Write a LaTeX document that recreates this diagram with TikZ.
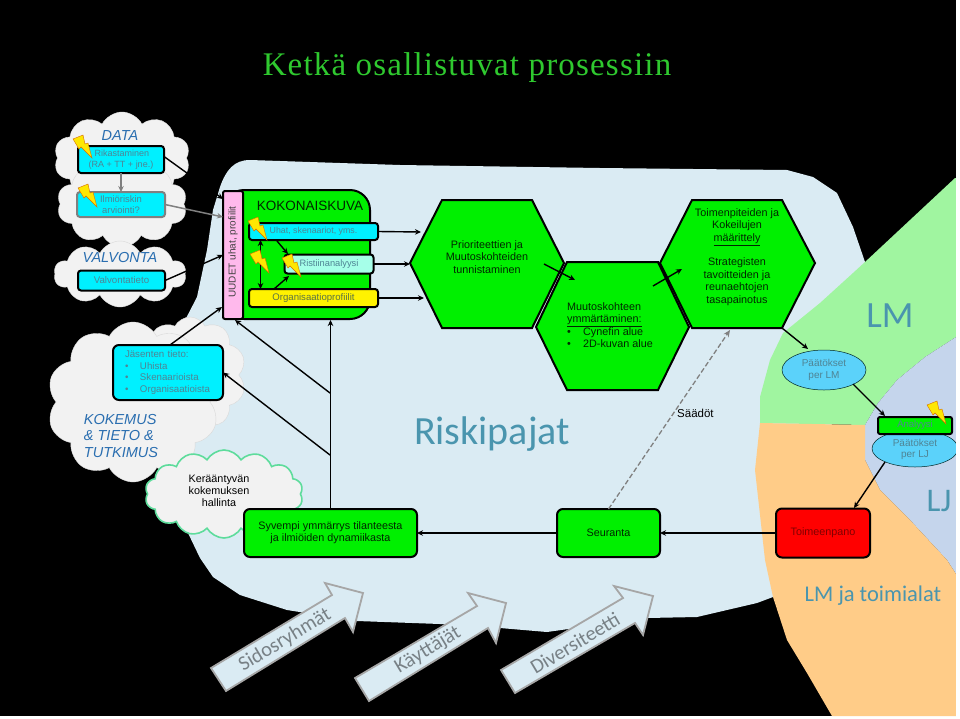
\documentclass[tikz,border=0pt]{standalone}
\usepackage{fontspec}
\setmainfont{Liberation Sans}
\newfontfamily\titlefont[LetterSpace=3.6]{Liberation Serif}
\newfontfamily\calfont{Carlito}
\usetikzlibrary{arrows.meta,shapes.symbols,shapes.geometric}
\definecolor{bgblue}{HTML}{DAEBF3}
\definecolor{lmgreen}{HTML}{A0F5A0}
\definecolor{ljblue}{HTML}{C5D5EC}
\definecolor{orangeback}{HTML}{FFCC88}
\definecolor{cyanbox}{HTML}{00F0FF}
\definecolor{hexgreen}{HTML}{00F000}
\definecolor{cloudgray}{HTML}{F2F2F2}
\definecolor{boxtext}{HTML}{4F8494}
\definecolor{headblue}{HTML}{2A6EB0}
\definecolor{wordart}{HTML}{4A95AE}
\definecolor{ellblue}{HTML}{5BD2FA}
\definecolor{titlegreen}{HTML}{2FC92F}
\definecolor{keragreen}{HTML}{5EDC9C}
\tikzset{
  x=1pt,y=-1pt,
  boxbase/.style={rectangle,rounded corners=3pt,draw=black,line width=2pt,inner sep=0pt,outer sep=0pt,align=center,font=\fontsize{10.8}{12.2}\selectfont},
  smalltext/.style={font=\fontsize{#1}{11.5}\selectfont},
  cyanb/.style={boxbase,fill=cyanbox,text=boxtext},
  greenb/.style={boxbase,fill=hexgreen,text=black!85!green,rounded corners=6pt},
  grayarc/.style={cloud,cloud ignores aspect,draw=white!85!black,line width=.4pt,fill=cloudgray,inner sep=0pt},
  greycloud/.style={grayarc,cloud puffs=10,cloud puff arc=125},
  hexshape/.style={draw=black,line width=2pt,fill=hexgreen,line join=miter},
  hextext/.style={inner sep=0pt,align=center,font=\fontsize{10.8}{12.35}\selectfont,text=black!85!green},
  conn/.style={black,line width=1.4pt,-{Stealth[length=6pt,width=5.5pt]}},
  bigarrow/.style={draw=black!35,line width=1.8pt,fill=bgblue,line join=miter},
  bigarrowtext/.style={font=\calfont\fontsize{20.5}{20.5}\selectfont,text=black!45!bgblue,rotate=31,inner sep=0pt},
  wordarttext/.style={font=\calfont,text=wordart,inner sep=0pt},
  ell/.style={ellipse,draw=black!70!teal,line width=.5pt,fill=ellblue,inner sep=0pt,align=center,font=\fontsize{10}{11.5}\selectfont,text=boxtext},
  head/.style={font=\itshape\fontsize{14.5}{16.5}\selectfont,text=headblue,inner sep=0pt,align=center},
  pics/bolt/.style={code={
    \draw[fill=yellow!90!orange,draw=orange!85!black,line width=.4pt,line join=miter]
      (0,4)--(10,0)--(12,9)--(15,8)--(19,23)--(8,12)--(6,14)--cycle;}}
}
\begin{document}
\begin{tikzpicture}
\useasboundingbox (0,0) rectangle (960,718);
\fill[white] (0,0) rectangle (960,718);
\fill[black] (0,0) rectangle (956,716);
% regions
\fill[bgblue] (220,187) .. controls (226,170) and (234,160) .. (250,160)
  -- (400,165) -- (600,168) -- (787,170) -- (813,177) -- (837,193) -- (853,227) -- (865,262)
  -- (840,400) -- (773,597) -- (757,603) -- (727,610) -- (697,617) -- (647,618) -- (547,632)
  -- (500,628) -- (440,624) -- (357,621) -- (287,610) -- (240,595) -- (213,577) -- (200,558)
  -- (188,533) -- (170,480) -- (160,400) -- (180,330) -- (197,297) -- (207,250) -- (213,210) -- cycle;
\fill[lmgreen] (865,262) -- (955,178) -- (956,178) -- (956,337) -- (925,357) -- (897,380) -- (878,403)
  -- (865,425) -- (760,423) -- (760,397) -- (770,360) -- (783,333) -- (820,303) -- (853,273) -- cycle;
\fill[ljblue] (956,337) -- (925,357) -- (897,380) -- (878,403) -- (865,425) -- (865,460) -- (880,490)
  -- (910,520) -- (947,560) -- (956,574) -- cycle;
\fill[orangeback] (760,423) -- (865,425) -- (865,460) -- (880,490) -- (910,520) -- (947,560) -- (956,574)
  -- (956,716) -- (832,716) -- (807,673) -- (787,640) -- (773,597) -- (765,560) -- (755,470) -- cycle;
% clouds
\node[greycloud,minimum width=136pt,minimum height=92pt] (cdata) at (122,158) {};
\node[greycloud,minimum width=130pt,minimum height=86pt] (cdata2) at (122,204) {};
\node[greycloud,minimum width=132pt,minimum height=66pt] (cvalv) at (120,274) {};
\node[greycloud,minimum width=112pt,minimum height=116pt] (cjas) at (190,375) {};
\node[greycloud,minimum width=172pt,minimum height=160pt] (ckok) at (133,402) {};
\node[cloud,cloud ignores aspect,cloud puffs=14,cloud puff arc=120,draw=keragreen,line width=1.6pt,fill=cloudgray,
  minimum width=158pt,minimum height=88pt,inner sep=0pt] (ckera) at (224,494) {};
\node[inner sep=0pt,align=center,font=\fontsize{10.8}{12.2}\selectfont] (kera) at (219,491) {Kerääntyvän\\kokemuksen\\hallinta};
% heads
\node[head] (hdata) at (120,136) {DATA};
\node[head] (hvalv) at (120,258) {VALVONTA};
\node[head,align=left] (hkok) at (121,435.5) {KOKEMUS\\\& TIETO \&\\TUTKIMUS};
% title
\node[inner sep=0pt,text=titlegreen,font=\titlefont\fontsize{33}{33}\selectfont] (title) at (467,67.5) {Ketkä osallistuvat prosessiin};
% word art
\node[wordarttext,font=\calfont\fontsize{40}{40}\selectfont] (risk) at (492,434) {Riskipajat};
\node[wordarttext,font=\calfont\fontsize{37}{37}\selectfont] (lmt) at (890,316) {LM};
\node[wordarttext,font=\calfont\fontsize{33}{33}\selectfont] (ljt) at (939,501) {LJ};
\node[wordarttext,font=\calfont\fontsize{22.5}{22.5}\selectfont] (lmtm) at (873,596) {LM ja toimialat};
% green panel and boxes
\node[rectangle,rounded corners=20pt,draw=black,line width=2pt,fill=hexgreen,inner sep=0pt,minimum width=146pt,minimum height=129pt] (koko) at (297,254.5) {};
\node[boxbase,fill=pink!60!magenta!50!white,rounded corners=2pt,minimum width=20pt,minimum height=128pt,text=black!75] (uudet) at (233,255) {};
\node[rotate=90,inner sep=0pt,font=\fontsize{10}{12}\selectfont,text=black!75] (uudett) at (233,252) {UUDET uhat, profiilit};
\node[inner sep=0pt,font=\fontsize{13.5}{14}\selectfont,text=black!85!green] (kokot) at (310,206) {KOKONAISKUVA};
\node[cyanb,smalltext=9,minimum width=86pt,minimum height=27pt] (rikas) at (121,159.5) {\hspace*{2pt}Rikastaminen\\(RA + TT + jne.)};
\node[cyanb,smalltext=9.4,draw=black!50,minimum width=88pt,minimum height=25pt] (ilmio) at (121,204.5) {Ilmiöriskin\\arviointi?};
\node[cyanb,smalltext=9.7,minimum width=87pt,minimum height=20pt] (valv) at (121.5,280.5) {Valvontatieto};
\node[cyanb,smalltext=8.8,minimum width=129pt,minimum height=17pt] (uhat) at (313.5,231.5) {Uhat, skenaariot, yms.};
\node[boxbase,smalltext=9.3,fill=green!25!cyan!35!white,text=boxtext,minimum width=89pt,minimum height=19pt] (risti) at (329,264) {Ristiinanalyysi};
\node[boxbase,smalltext=9.6,fill=yellow,text=boxtext!60!black!80!yellow,minimum width=129pt,minimum height=18pt] (org) at (313.5,298) {Organisaatioprofiilit};
\node[cyanb,smalltext=9.7,rounded corners=6pt,minimum width=110pt,minimum height=55pt,text width=86pt,align=left] (jas) at (168,372.5) {%
  Jäsenten tieto:\\\makebox[15pt][l]{\textbullet}Uhista\\\makebox[15pt][l]{\textbullet}Skenaarioista\\\makebox[15pt][l]{\textbullet}Organisaatioista};
\node[greenb,minimum width=173pt,minimum height=48pt] (syv) at (330.5,533) {Syvempi ymmärrys tilanteesta\\ja ilmiöiden dynamiikasta};
\node[greenb,minimum width=103pt,minimum height=48pt] (seur) at (608.5,533) {Seuranta};
\node[boxbase,fill=red,rounded corners=6pt,text=red!50!black,minimum width=94pt,minimum height=49pt] (toim) at (823,533) {Toimeenpano};
% hexagons
\draw[hexshape] (410,263) -- (442,200) -- (532,200) -- (564,263) -- (532,328) -- (442,328) -- cycle;
\draw[hexshape] (660,263) -- (692,200) -- (782,200) -- (815,263) -- (782,328) -- (692,328) -- cycle;
\draw[hexshape] (536,327) -- (567,262) -- (658,262) -- (689,327) -- (658,390) -- (567,390) -- cycle;
\node[hextext] (h1) at (487,257) {Prioriteettien ja\\Muutoskohteiden\\tunnistaminen};
\node[hextext] (h3) at (737,257) {Toimenpiteiden ja\\Kokeilujen\\\underline{määrittely}\\[12.35pt]Strategisten\\tavoitteiden ja\\reunaehtojen\\tasapainotus};
\node[hextext,align=left] (h2) at (610,325) {Muutoskohteen\\\underline{ymmärtäminen:}\\\makebox[16pt][l]{\textbullet}Cynefin alue\\\makebox[16pt][l]{\textbullet}2D-kuvan alue};
\node[inner sep=0pt,font=\fontsize{11.5}{13}\selectfont,anchor=west] (saad) at (677,413) {Säädöt};
% decisions
\node[ell,minimum width=84pt,minimum height=40pt] (plm) at (824,370) {Päätökset\\per LM};
\node[ell,minimum width=86pt,minimum height=37pt] (plj) at (915,448.5) {\\[-2pt]Päätökset\\per LJ};
\node[boxbase,smalltext=9.5,fill=hexgreen,text=boxtext,rounded corners=2pt,minimum width=74pt,minimum height=17pt] (ana) at (915,425.5) {Analyysi};
% big arrows
\draw[bigarrow] (211,668) -- (226,691) -- (345,618) -- (353,632) -- (363,593) -- (325,583) -- (332,595) -- cycle;
\draw[bigarrow] (355,678) -- (369,701) -- (488,628) -- (496,643) -- (506,603) -- (468,593) -- (477,606) -- cycle;
\draw[bigarrow] (501,670) -- (515,693) -- (635,623) -- (643,635) -- (653,596) -- (614,586) -- (623,598) -- cycle;
\node[bigarrowtext] (s1) at (285,640) {Sidosryhmät};
\node[bigarrowtext] (s2) at (428,650) {Käyttäjät};
\node[bigarrowtext] (s3) at (575,643) {Diversiteetti};
% connector ends
\coordinate (u1) at (223,199);
\coordinate (u2) at (223,217);
\coordinate (u3) at (223,255);
\coordinate (u4) at (222,307);
\coordinate (hl1) at (421,232);
\coordinate (hl2) at (410,264);
\coordinate (hl3) at (424,298);
\coordinate (j1) at (330,393);
\coordinate (j2) at (330,455);
\coordinate (j3) at (235,320);
\coordinate (h3corner) at (782,328);
\coordinate (plmtop) at (808,349);
% connectors
\draw[conn] ([yshift=3pt]rikas.east) -- (u1);
\draw[-{Stealth[length=6pt,width=5.5pt]},black!50,line width=1.5pt] (ilmio.east) -- (u2);
\draw[-{Stealth[length=6pt,width=5.5pt]},black!50,line width=1.5pt] (rikas.south) -- (ilmio.north);
\draw[conn] (valv.east) -- (u3);
\draw[conn] ([xshift=2pt]jas.north) -- (u4);
\draw[conn] (uhat.east) -- (hl1);
\draw[conn] (risti.east) -- (hl2);
\draw[conn] (org.east) -- (hl3);
\draw[conn] (syv.north) -- (koko.south -| syv.north);
\draw[conn] (j1) -- (j3);
\draw[conn] (j2) -- (jas.east);
\draw[conn] (seur.west) -- (syv.east);
\draw[conn] (toim.west) -- (seur.east);
\draw[conn] (544,264) -- (575,280);
\draw[conn] (653,286) -- (682,269);
\draw[-{Stealth[length=7pt,width=6pt]},black!50,line width=1.3pt,dash pattern=on 5pt off 2.5pt] (seur.north) -- (730,330);
\draw[conn] (h3corner) -- (plmtop);
\draw[conn] (853,384) -- (885,416);
\draw[conn] (885,462) -- (854,508);
\draw[{Stealth[length=6pt,width=5.5pt]}-{Stealth[length=6pt,width=5.5pt]},black,line width=1.4pt] (260.5,240) -- (260.5,289);
\draw[conn] (277,241) -- (288,254);
\draw[conn] (274,289) -- (289,276);
% bolts
\pic at (73,135) {bolt};
\pic at (78,184) {bolt};
\pic at (248,217) {bolt};
\pic at (250,250) {bolt};
\pic at (282,254) {bolt};
\pic at (927,401) {bolt};
\fill[white] (956,0) rectangle (960,718);
\end{tikzpicture}
\end{document}
